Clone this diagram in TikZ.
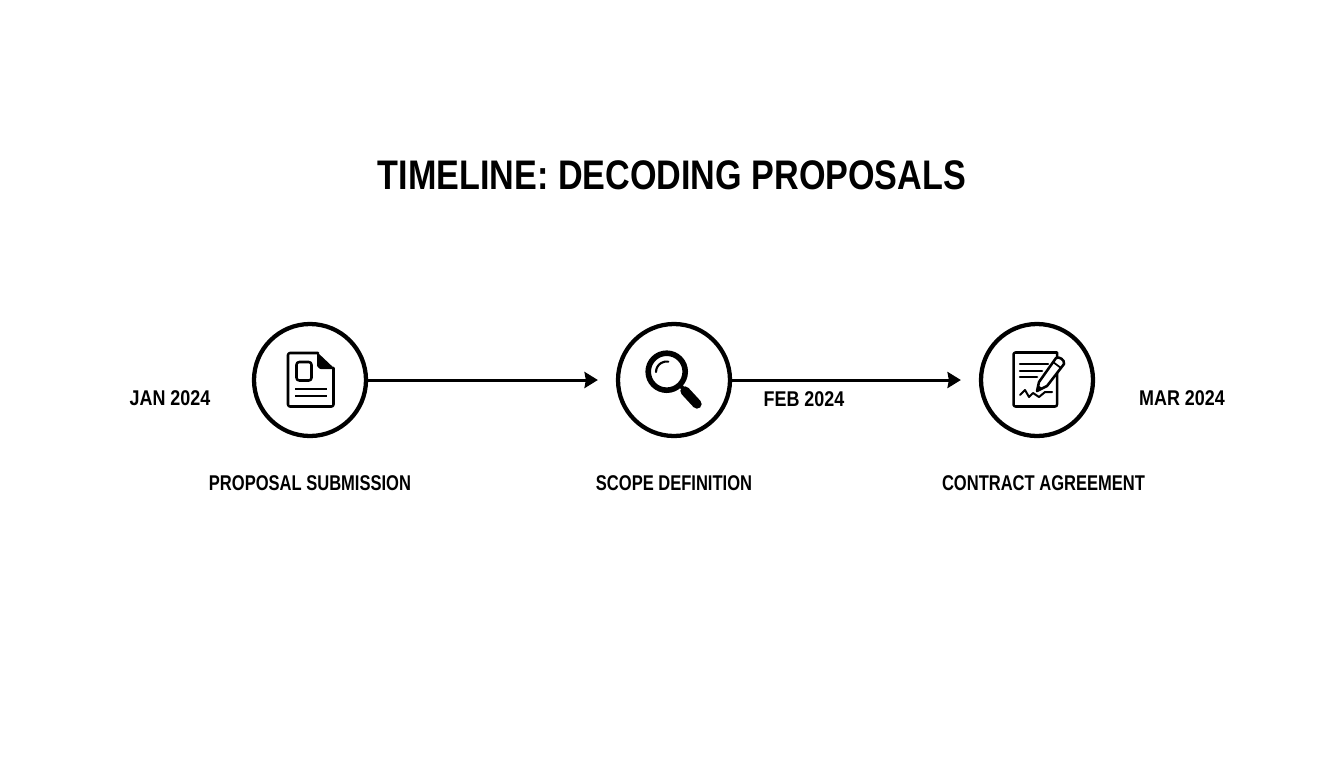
\documentclass[tikz,border=0pt]{standalone}
\usepackage{fontspec}
\setmainfont{Liberation Sans}
\newfontfamily\titlefont[FakeStretch=0.826]{Liberation Sans Bold}
\newfontfamily\labelfont[FakeStretch=0.775]{Liberation Sans Bold}
\newfontfamily\datefont[FakeStretch=0.84]{Liberation Sans Bold}
\usepackage{tikz}
\usetikzlibrary{arrows.meta}

\begin{document}
\begin{tikzpicture}
[x=0.75pt,y=-0.75pt,
  arrowDecorate/.style={-{Stealth[length=10pt,width=12pt,inset=1pt]},line width=2.25pt,shorten >=13.5pt},%
  stageDecorate/.style={shape=circle,minimum size=84pt,inner sep=0pt,draw,line width=3.2pt},%
  textDecorate/.style={inner sep=0pt,text=black,font=\labelfont\fontsize{16}{18}\selectfont},%
  dateDecorate/.style={inner sep=0pt,text=black,font=\datefont\fontsize{16}{18}\selectfont},%
  iconLine/.style={line width=1.9pt,line cap=round,line join=round}]
\useasboundingbox (0,0) rectangle (1344,768);
\node (title) at (672,175) [inner sep=0pt,font=\titlefont\fontsize{31}{36}\selectfont] {TIMELINE: DECODING PROPOSALS};
%% nodes or vertices
\foreach \nodename/\x in {submission/310, scope/674, contract/1037}
{
  \node (\nodename) at (\x,380) [stageDecorate] {};
}
%% dates and captions
\foreach \nodename/\x/\y/\words in {jan/170/398/JAN 2024, feb/804/399/FEB 2024, mar/1182/398/MAR 2024}
{
  \node (\nodename) at (\x,\y) [dateDecorate] {\words};
}
\foreach \nodename/\x/\words in {
  submissionText/310/PROPOSAL SUBMISSION, scopeText/674/SCOPE DEFINITION,
  contractText/1043.5/CONTRACT AGREEMENT}
{
  \node (\nodename) at (\x,483) [textDecorate] {\words};
}
%% edges or lines
\path
\foreach \startnode/\endnode in {submission/scope, scope/contract}
{
  (\startnode) edge[arrowDecorate] node {} (\endnode)
};
%% document icon
\draw[iconLine,rounded corners=1.5pt] (318,353) -- (288,353) -- (288,406.5) -- (333.5,406.5) -- (333.5,368);
\fill[rounded corners=0.5pt] (317,352) -- (335,369) -- (320,369) -- (317,366) -- cycle;
\draw[iconLine,rounded corners=2pt] (296.5,362) rectangle (311.5,380.5);
\draw[iconLine,line cap=butt] (295,389) -- (327,389) (295,396) -- (327,396);
%% magnifier icon
\draw[line width=4.2pt] (666.7,371.7) circle (18.5);
\draw[line width=1.6pt,line cap=round] (656,372) arc (180:280:10.5);
\draw[line width=3pt] (680,385) -- (686,392);
\draw[line width=7pt,line cap=round] (685,391) -- (697,404);
%% contract icon
\draw[iconLine,rounded corners=1.5pt] (1057,352.5) -- (1013.5,352.5) -- (1013.5,406.5) -- (1057,406.5) -- (1057,352.5);
\draw[iconLine] (1020,364) -- (1048,364) (1020,371) -- (1042,371) (1020,377) -- (1037,377);
\draw[iconLine,line width=1.5pt] (1020,395) -- (1025,390) -- (1029,397) -- (1033,393) -- (1039,397) -- (1045,392) -- (1052,392);
\draw[iconLine,fill=white] (1037,391) -- (1039,382) -- (1056,358) .. controls (1059,356) and (1065,360) .. (1064,364) -- (1047,386) -- cycle;
\draw[iconLine,line width=1.3pt] (1053,362) -- (1061,368);
\fill (1037,391) -- (1038,385) -- (1042,388) -- cycle;
\end{tikzpicture}
\end{document}
